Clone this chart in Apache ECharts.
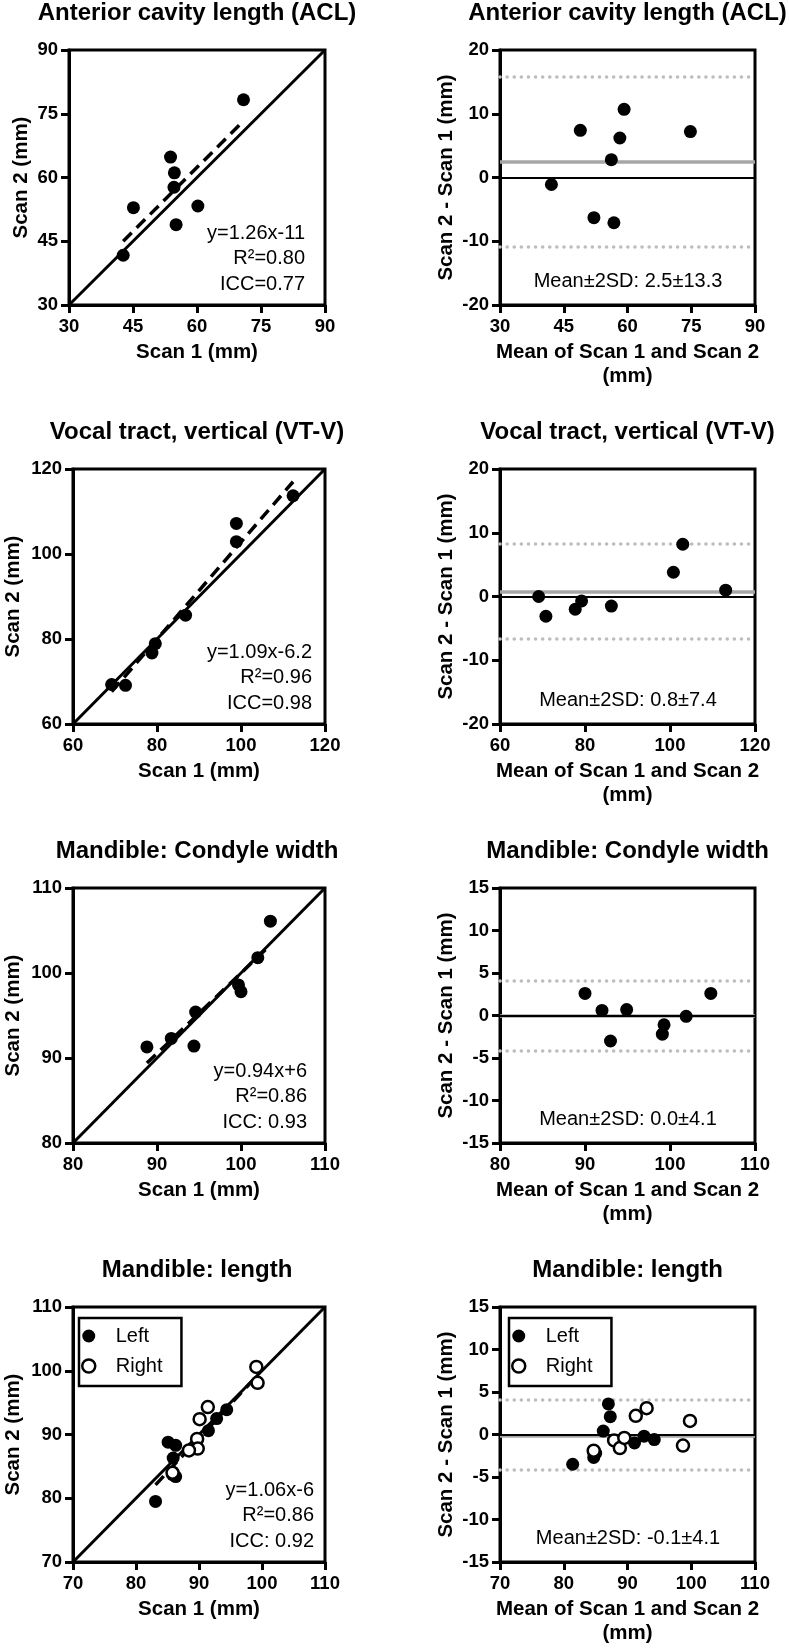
<!DOCTYPE html>
<html>
<head>
<meta charset="utf-8">
<script src="https://cdn.jsdelivr.net/npm/echarts@6/dist/echarts.min.js"></script>
<style>
    html, body { margin: 0; padding: 0; background: #fff; }
    #chart { width: 789px; height: 1649px; }
</style>
</head>
<body>
<div id="chart"></div>
<script>
// ---- data ----
// Anterior cavity length (ACL)
const aclTicks = [30, 45, 60, 75, 90];
const aclScan1 = [70.9, 53.8, 54.7, 54.6, 45.1, 60.2, 55.1, 42.7];
const aclScan2 = [78.3, 64.8, 61.1, 57.7, 52.9, 53.3, 48.9, 41.7];
const aclFitX = [42.7, 70.9];
const aclFitY = [45.0, 73.3];
const aclMean = [42.1, 48.9, 52.1, 56.2, 56.8, 58.2, 59.2, 74.8];
const aclDiff = [-1.1, 7.4, -6.3, 2.8, -7.1, 6.2, 10.7, 7.2];
const aclDiffTicks = [-20, -10, 0, 10, 20];
const aclLimits = [2.5, 15.8, -10.8];   // bias, upper, lower

// Vocal tract, vertical (VT-V)
const vtTicks = [60, 80, 100, 120];
const vtScan1 = [112.4, 98.9, 98.9, 86.8, 79.6, 78.8, 69.2, 72.5];
const vtScan2 = [113.7, 107.2, 102.9, 85.6, 78.9, 76.7, 69.3, 69.1];
const vtFitX = [69.2, 112.4];
const vtFitY = [67.6, 117.0];
const vtMean = [69.1, 70.8, 77.7, 79.2, 86.2, 100.8, 103.0, 113.1];
const vtDiff = [0.0, -3.1, -2.0, -0.7, -1.5, 3.8, 8.2, 1.0];
const vtDiffTicks = [-20, -10, 0, 10, 20];
const vtLimits = [0.8, 8.2, -6.6];

// Mandible: Condyle width
const cwTicks = [80, 90, 100, 110];
const cwScan1 = [103.5, 102.0, 99.7, 100.0, 94.6, 91.7, 88.8, 94.4];
const cwScan2 = [106.1, 101.8, 98.6, 97.8, 95.4, 92.3, 91.3, 91.4];
const cwFitX = [88.8, 103.5];
const cwFitY = [89.4, 103.3];
const cwMean = [90.0, 92.0, 93.0, 94.9, 99.1, 99.3, 101.9, 104.8];
const cwDiff = [2.6, 0.6, -3.0, 0.7, -2.2, -1.1, -0.1, 2.6];
const cwDiffTicks = [-15, -10, -5, 0, 5, 10, 15];
const cwLimits = [0.0, 4.1, -4.1];

// Mandible: length (left / right sides)
const mlTicks = [70, 80, 90, 100, 110];
const mlLeftScan1 = [83.1, 85.1, 86.3, 85.9, 85.8, 86.3, 91.5, 92.8, 94.4];
const mlLeftScan2 = [79.5, 88.8, 88.3, 86.3, 83.7, 83.4, 90.6, 92.5, 93.9];
const mlRightScan1 = [99.1, 99.3, 91.4, 90.1, 89.7, 89.8, 88.4, 85.8];
const mlRightScan2 = [100.6, 98.1, 94.3, 92.4, 89.3, 87.8, 87.5, 84.0];
const mlFitX = [83.1, 99.3];
const mlFitY = [82.1, 99.3];
const mlLeftMean = [81.4, 84.7, 85.0, 87.0, 87.3, 86.2, 91.1, 92.6, 94.2];
const mlLeftDiff = [-3.5, -2.7, -2.2, 3.6, 2.1, 0.4, -1.0, -0.2, -0.6];
const mlRightMean = [84.7, 87.9, 88.8, 89.5, 91.3, 93.0, 98.7, 99.8];
const mlRightDiff = [-1.9, -0.7, -1.6, -0.4, 2.2, 3.1, -1.3, 1.6];
const mlDiffTicks = [-15, -10, -5, 0, 5, 10, 15];
const mlLimits = [-0.1, 4.1, -4.1];

const titles = [
    'Anterior cavity length (ACL)',
    'Vocal tract, vertical (VT-V)',
    'Mandible: Condyle width',
    'Mandible: length',
];
const fitNotes = [
    ['y=1.26x-11', 'R²=0.80', 'ICC=0.77'],
    ['y=1.09x-6.2', 'R²=0.96', 'ICC=0.98'],
    ['y=0.94x+6', 'R²=0.86', 'ICC: 0.93'],
    ['y=1.06x-6', 'R²=0.86', 'ICC: 0.92'],
];
const baNotes = ['Mean±2SD: 2.5±13.3', 'Mean±2SD: 0.8±7.4', 'Mean±2SD: 0.0±4.1', 'Mean±2SD: -0.1±4.1'];

// ---- layout ----
const FONT = '"Liberation Sans", Arial, Helvetica, sans-serif';
const colLeft = [69, 500];
const colWidth = [256, 255];
const rowTop = [50, 469, 888, 1307];
const plotH = 255;
const noteRight = [305, 312, 307, 314];
const yNameGap = [36, 48, 48, 48];

function zip(xs, ys) {
    return xs.map((x, i) => [x, ys[i]]);
}

const grids = [];
const xAxes = [];
const yAxes = [];
const series = [];
const texts = [];

function axis(ticks, idx, name, gap, isX) {
    return {
        gridIndex: idx,
        type: 'value',
        min: ticks[0],
        max: ticks[ticks.length - 1],
        interval: ticks[1] - ticks[0],
        name: name,
        nameLocation: 'middle',
        nameGap: gap,
        nameTextStyle: {
            color: '#000', fontSize: 20.5, fontWeight: 'bold', fontFamily: FONT, lineHeight: 24,
        },
        axisLine: { onZero: false, lineStyle: { color: '#000', width: 3 } },
        axisTick: { length: 8, lineStyle: { color: '#000', width: 3 } },
        axisLabel: {
            margin: isX ? 12 : 11, color: '#000', fontSize: 18.5, fontWeight: 'bold', fontFamily: FONT,
        },
        splitLine: { show: false },
    };
}

function addText(text, x, y, align, bold, size) {
    texts.push({
        text: text,
        left: x,
        top: y,
        padding: 0,
        textAlign: align,
        textVerticalAlign: 'middle',
        textStyle: {
            color: '#000', fontSize: size, fontWeight: bold ? 'bold' : 'normal', fontFamily: FONT,
        },
    });
}

function refLine(idx, ticks) {
    const lo = ticks[0], hi = ticks[ticks.length - 1];
    return {
        type: 'line', xAxisIndex: idx, yAxisIndex: idx, silent: true, z: 3,
        symbol: 'none', data: [[lo, lo], [hi, hi]],
        lineStyle: { color: '#000', width: 3 },
    };
}

function fitLine(idx, xs, ys) {
    return {
        type: 'line', xAxisIndex: idx, yAxisIndex: idx, silent: true, z: 4,
        symbol: 'none', data: zip(xs, ys),
        lineStyle: { color: '#000', width: 3.5, type: [12, 7] },
    };
}

function dots(idx, name, data, open, extra) {
    return Object.assign({
        type: 'scatter', name: name, xAxisIndex: idx, yAxisIndex: idx, z: 10,
        symbol: 'circle', symbolSize: open ? 12 : 13, data: data,
        itemStyle: open
            ? { color: '#fff', borderColor: '#000', borderWidth: 2.5, opacity: 1 }
            : { color: '#000', opacity: 1 },
        emphasis: { disabled: true },
    }, extra || {});
}

function limitLines(limits) {
    const dotted = { color: '#bdbdbd', width: 3.5, type: [0.1, 7], cap: 'round' };
    return {
        silent: true, z: 3, symbol: ['none', 'none'], label: { show: false },
        data: [
            { yAxis: limits[0], lineStyle: { color: '#a6a6a6', width: 3.5, type: 'solid' } },
            { yAxis: limits[1], lineStyle: dotted },
            { yAxis: limits[2], lineStyle: dotted },
            { yAxis: 0, lineStyle: { color: '#000', width: 2, type: 'solid' } },
        ],
    };
}

const scatterSets = [
    { ticks: aclTicks, s1: aclScan1, s2: aclScan2, fx: aclFitX, fy: aclFitY },
    { ticks: vtTicks, s1: vtScan1, s2: vtScan2, fx: vtFitX, fy: vtFitY },
    { ticks: cwTicks, s1: cwScan1, s2: cwScan2, fx: cwFitX, fy: cwFitY },
    { ticks: mlTicks, fx: mlFitX, fy: mlFitY },
];
const baSets = [
    { ticks: aclTicks, yt: aclDiffTicks, m: aclMean, d: aclDiff, lim: aclLimits },
    { ticks: vtTicks, yt: vtDiffTicks, m: vtMean, d: vtDiff, lim: vtLimits },
    { ticks: cwTicks, yt: cwDiffTicks, m: cwMean, d: cwDiff, lim: cwLimits },
    { ticks: mlTicks, yt: mlDiffTicks, lim: mlLimits },
];

for (let r = 0; r < 4; r++) {
    const top = rowTop[r];
    const bottom = top + plotH;
    // left: Scan 1 vs Scan 2
    let idx = r * 2;
    let sc = scatterSets[r];
    grids.push({
        left: colLeft[0], top: top, width: colWidth[0], height: plotH,
        show: true, borderColor: '#000', borderWidth: 3, backgroundColor: 'transparent',
    });
    xAxes.push(axis(sc.ticks, idx, 'Scan 1 (mm)', 35, true));
    yAxes.push(axis(sc.ticks, idx, 'Scan 2 (mm)', yNameGap[r], false));
    series.push(refLine(idx, sc.ticks));
    series.push(fitLine(idx, sc.fx, sc.fy));
    if (r < 3) {
        series.push(dots(idx, 'p' + idx, zip(sc.s1, sc.s2), false));
    } else {
        series.push(dots(idx, 'Left', zip(mlLeftScan1, mlLeftScan2), false));
        series.push(dots(idx, 'Right', zip(mlRightScan1, mlRightScan2), true));
    }
    addText(titles[r], colLeft[0] + colWidth[0] / 2, top - 36.5, 'center', true, 24);
    fitNotes[r].forEach((t, k) => {
        addText(t, noteRight[r], bottom - 72 + k * 25.5, 'right', false, 20);
    });

    // right: Bland-Altman
    idx = r * 2 + 1;
    let ba = baSets[r];
    grids.push({
        left: colLeft[1], top: top, width: colWidth[1], height: plotH,
        show: true, borderColor: '#000', borderWidth: 3, backgroundColor: 'transparent',
    });
    xAxes.push(axis(ba.ticks, idx, 'Mean of Scan 1 and Scan 2\n(mm)', 35, true));
    yAxes.push(axis(ba.yt, idx, 'Scan 2 - Scan 1 (mm)', 41, false));
    if (r < 3) {
        series.push(dots(idx, 'b' + idx, zip(ba.m, ba.d), false, { markLine: limitLines(ba.lim) }));
    } else {
        series.push(dots(idx, 'Left', zip(mlLeftMean, mlLeftDiff), false, { markLine: limitLines(ba.lim) }));
        series.push(dots(idx, 'Right', zip(mlRightMean, mlRightDiff), true));
    }
    addText(titles[r], colLeft[1] + colWidth[1] / 2, top - 36.5, 'center', true, 24);
    addText(baNotes[r], 628, bottom - 23.5, 'center', false, 20);
}

function legendAt(left, top) {
    return {
        left: left, top: top, orient: 'vertical', selectedMode: false,
        itemWidth: 44, itemHeight: 13, itemGap: 10,
        padding: [8, 19, 10, 2],
        borderColor: '#000', borderWidth: 2.5, backgroundColor: '#fff',
        textStyle: { color: '#000', fontSize: 20, fontFamily: FONT, lineHeight: 20 },
        data: [
            { name: 'Left', icon: 'circle', itemStyle: { color: '#000', opacity: 1 } },
            { name: 'Right', icon: 'circle', itemStyle: { color: '#fff', borderColor: '#000', borderWidth: 2.5, opacity: 1 } },
        ],
    };
}

const option = {
    animation: false,
    backgroundColor: '#fff',
    title: texts,
    legend: [legendAt(79, 1318), legendAt(509, 1318)],
    grid: grids,
    xAxis: xAxes,
    yAxis: yAxes,
    series: series,
};

const myChart = echarts.init(document.getElementById('chart'));
myChart.setOption(option);
window.addEventListener('resize', myChart.resize);
</script>
</body>
</html>
